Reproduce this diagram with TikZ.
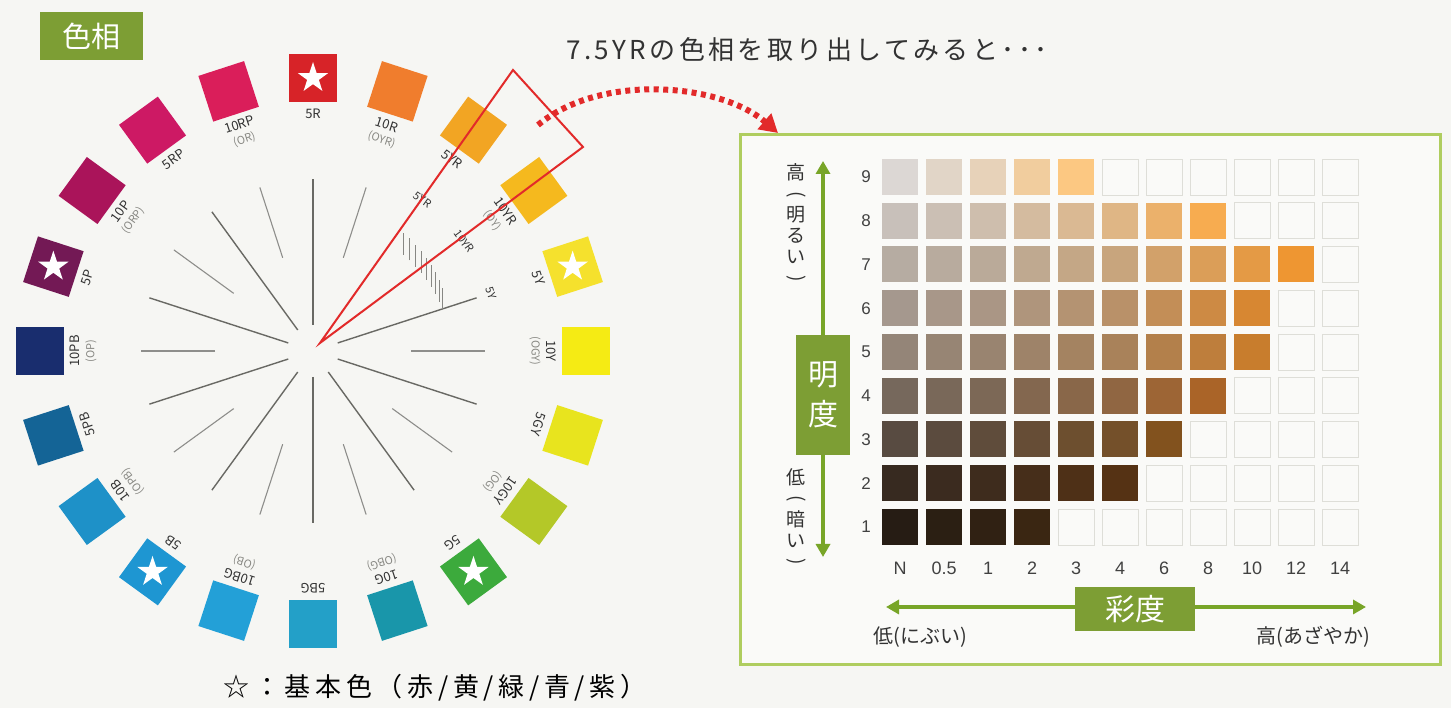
\documentclass[tikz,border=0pt]{standalone}
\usepackage{fontspec}
\setmainfont{Noto Sans CJK JP}
\newfontfamily\numfont{Liberation Sans}
\usetikzlibrary{
	positioning,
	calc,
	arrows.meta,
	shapes.geometric
}

\definecolor{paper}{RGB}{246,246,243}
\definecolor{panelbg}{RGB}{250,250,248}
\definecolor{panelline}{RGB}{175,205,95}
\definecolor{boxgreen}{RGB}{125,158,52}
\definecolor{arrgreen}{RGB}{120,165,40}
\definecolor{markred}{RGB}{226,42,42}
\definecolor{linegray}{RGB}{105,105,100}
\definecolor{labgray}{RGB}{50,50,50}
\definecolor{pargray}{RGB}{135,135,130}
\definecolor{cellline}{RGB}{222,222,216}
\definecolor{numgray}{RGB}{65,65,65}
% hue squares
\definecolor{h5R}{RGB}{215,35,40}
\definecolor{h10R}{RGB}{240,125,45}
\definecolor{h5YR}{RGB}{242,165,35}
\definecolor{h10YR}{RGB}{245,185,30}
\definecolor{h5Y}{RGB}{245,225,45}
\definecolor{h10Y}{RGB}{245,235,20}
\definecolor{h5GY}{RGB}{232,228,30}
\definecolor{h10GY}{RGB}{180,200,40}
\definecolor{h5G}{RGB}{60,170,60}
\definecolor{h10G}{RGB}{25,150,170}
\definecolor{h5BG}{RGB}{35,160,200}
\definecolor{h10BG}{RGB}{35,160,215}
\definecolor{h5B}{RGB}{30,150,210}
\definecolor{h10B}{RGB}{30,145,200}
\definecolor{h5PB}{RGB}{20,100,150}
\definecolor{h10PB}{RGB}{25,45,110}
\definecolor{h5P}{RGB}{115,25,85}
\definecolor{h10P}{RGB}{170,20,90}
\definecolor{h5RP}{RGB}{205,25,100}
\definecolor{h10RP}{RGB}{218,30,90}
% 7.5YR chart: neutral and most vivid per value
\definecolor{n9}{RGB}{220,215,212} \definecolor{v9}{RGB}{252,200,130}
\definecolor{n8}{RGB}{200,192,186} \definecolor{v8}{RGB}{247,172,80}
\definecolor{n7}{RGB}{182,172,162} \definecolor{v7}{RGB}{238,150,50}
\definecolor{n6}{RGB}{165,152,142} \definecolor{v6}{RGB}{215,135,50}
\definecolor{n5}{RGB}{148,133,120} \definecolor{v5}{RGB}{200,125,45}
\definecolor{n4}{RGB}{118,104,92}  \definecolor{v4}{RGB}{170,100,40}
\definecolor{n3}{RGB}{88,75,65}    \definecolor{v3}{RGB}{130,82,30}
\definecolor{n2}{RGB}{55,42,32}    \definecolor{v2}{RGB}{85,50,20}
\definecolor{n1}{RGB}{38,28,20}    \definecolor{v1}{RGB}{58,38,18}

\newcommand{\vop}{\rotatebox[origin=c]{-90}{(}}
\newcommand{\vcl}{\rotatebox[origin=c]{-90}{)}}

\begin{document}
\begin{tikzpicture}[
		x=1pt, y=1pt,
		hsq/.style={minimum size=48pt, inner sep=0pt, outer sep=0pt},
		hstar/.style={star, star points=5, star point ratio=2.6, fill=white, minimum size=32pt, inner sep=0pt},
		hlab/.style={font=\fontsize{13}{14}\selectfont, text=labgray, inner sep=0pt},
		plab/.style={font=\fontsize{11}{12}\selectfont, text=pargray, inner sep=0pt},
		flab/.style={font=\fontsize{11}{12}\selectfont, text=labgray, inner sep=0pt},
		longline/.style={draw=linegray, line width=1.4pt},
		shortline/.style={draw=linegray!75, line width=1.1pt},
		fantick/.style={draw=linegray!80, line width=0.8pt},
		gbox/.style={fill=boxgreen, text=white, inner sep=0pt, font=\fontsize{30}{40}\selectfont},
		garrow/.style={draw=arrgreen, line width=3.5pt, -{Triangle[length=13pt,width=14pt]}},
		vlab/.style={align=center, font=\fontsize{19}{21}\selectfont, text=labgray, inner sep=0pt},
		hzlab/.style={font=\fontsize{20}{22}\selectfont, text=labgray, inner sep=0pt},
		numlab/.style={font=\numfont\fontsize{17}{18}\selectfont, text=numgray, inner sep=0pt},
		emptycell/.style={draw=cellline, line width=0.8pt},
		redtri/.style={draw=markred, line width=2pt, line join=miter},
		reddots/.style={draw=markred, line width=6pt, dash pattern=on 5pt off 4.5pt, -{Triangle[length=18pt,width=20pt]}}
		]
		
		\useasboundingbox (0,0) rectangle (1451,708);
		\fill[paper] (0,0) rectangle (1451,708);
		
		\node[gbox, minimum width=103pt, minimum height=48pt, font=\fontsize{29}{30}\selectfont] (hbox) at (91.5,672) {色相};
		
		% hue circle
		\coordinate (hc) at (313,357);
		\foreach \h/\a in {5R/90,5YR/54,5Y/18,5GY/-18,5G/-54,5BG/-90,5B/-126,5PB/-162,5P/162,5RP/126} {
			\node[hsq, fill=h\h, rotate=\a-90] (sq\h) at ($(hc)+(\a:273)$) {};
			\node[hlab, rotate=\a-90] (lb\h) at ($(hc)+(\a:237)$) {\h};
			\ifnum\a=54 \else
				\draw[longline] ($(hc)+(\a:26)$) -- ($(hc)+(\a:172)$);
			\fi
		}
		\foreach \h/\a/\p in {10R/72/OYR,10YR/36/OY,10Y/0/OGY,10GY/-36/OG,10G/-72/OBG,10BG/-108/OB,10B/-144/OPB,10PB/180/OP,10P/144/ORP,10RP/108/OR} {
			\node[hsq, fill=h\h, rotate=\a-90] (sq\h) at ($(hc)+(\a:273)$) {};
			\node[hlab, rotate=\a-90] (lb\h) at ($(hc)+(\a:238)$) {\h};
			\node[plab, rotate=\a-90] (pl\h) at ($(hc)+(\a:222)$) {(\p)};
			\ifnum\a=36 \else
				\draw[shortline] ($(hc)+(\a:98)$) -- ($(hc)+(\a:172)$);
			\fi
		}
		\foreach \h in {5R,5Y,5G,5B,5P}
			\node[hstar] (st\h) at (sq\h) {};
		
		% 5YR - 5Y close-up
		\foreach \h/\a in {5YR/54,10YR/36,5Y/18}
			\node[flab, rotate=\a-90] (fl\h) at ($(hc)+(\a:187)$) {\h};
		\foreach \a in {22,25.5,...,50}
			\draw[fantick] ($(hc)+(\a:140)+(0,-11)$) -- ++(0,22);
		
		\coordinate (tA) at (320,365);
		\coordinate (tB) at (513,638);
		\coordinate (tC) at (583,561);
		\draw[redtri] (tA) -- (tB) -- (tC) -- cycle;
		
		\node[anchor=west, text=labgray, font={\fontsize{26}{30}\selectfont\addfontfeatures{LetterSpace=13}}] (ttl) at (563,658) {7.5YRの色相を取り出してみると･･･};
		\coordinate (ds) at (538,583);
		\coordinate (de) at (778,575);
		\draw[reddots] (ds) .. controls (600,635) and (720,625) .. (de);
		
		% 7.5YR chart
		\draw[panelline, line width=3pt, fill=panelbg] (740,43) rectangle (1440,573);
		\foreach \v/\nc/\mc in {9/5/3,8/8/8,7/10/12,6/9/10,5/9/10,4/8/8,3/7/6,2/6/4,1/4/2} {
			\pgfmathsetmacro\cy{181+43.75*(\v-1)}
			\node[numlab] (r\v) at (866,\cy) {\v};
			\foreach \c [count=\i from 0] in {0,0.5,1,2,3,4,6,8,10,12,14} {
				\pgfmathsetmacro\cx{900+44*\i}
				\ifnum\i<\nc
					\pgfmathtruncatemacro\pct{100*\c/\mc}
					\fill[v\v!\pct!n\v] (\cx-18,\cy-18) rectangle ++(36,36);
				\else
					\draw[emptycell] (\cx-18,\cy-18) rectangle ++(36,36);
				\fi
			}
		}
		\foreach \t [count=\i from 0] in {N,0.5,1,2,3,4,6,8,10,12,14}
			\node[numlab, font=\numfont\fontsize{18}{19}\selectfont] (c\i) at (900+44*\i,140) {\t};
		
		\node[gbox, minimum width=54pt, minimum height=120pt, align=center] (vbox) at (823,313) {明\\度};
		\coordinate (vtop) at (823,547);
		\coordinate (vbot) at (823,151);
		\draw[garrow] (vbox.north) -- (vtop);
		\draw[garrow] (vbox.south) -- (vbot);
		\node[vlab, anchor=north] (vhi) at (796,545) {高\\\vop\\明\\る\\い\\\vcl};
		\node[vlab, anchor=north] (vlo) at (796,240) {低\\\vop\\暗\\い\\\vcl};
		
		\node[gbox, minimum width=120pt, minimum height=44pt] (cbox) at (1135,99) {彩度};
		\coordinate (cleft) at (886,101);
		\coordinate (cright) at (1366,101);
		\draw[garrow] (cbox.west|-cleft) -- (cleft);
		\draw[garrow] (cbox.east|-cright) -- (cright);
		\node[hzlab] (clo) at (920,71) {低(にぶい)};
		\node[hzlab] (chi) at (1313,71) {高(あざやか)};
		
		\node[anchor=west, text=black, font={\fontsize{26}{30}\selectfont\addfontfeatures{LetterSpace=18}}] (note) at (220,20) {☆：基本色（赤/黄/緑/青/紫）};
		
	\end{tikzpicture}
\end{document}
